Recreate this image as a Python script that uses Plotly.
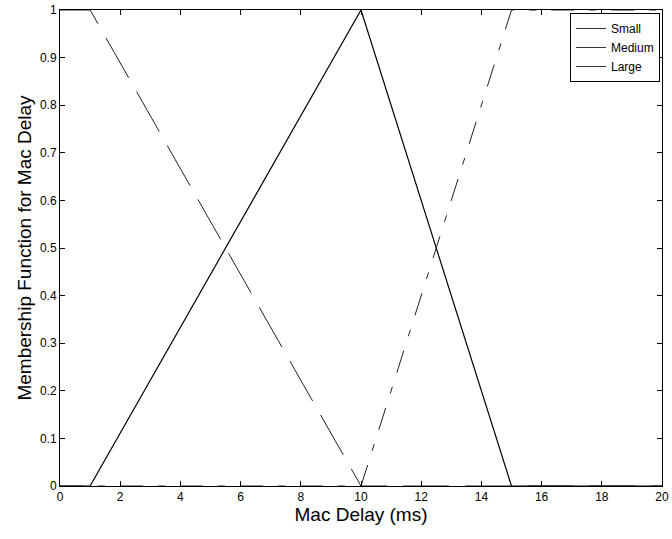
import plotly.graph_objects as go

small_x = [0, 1, 10, 20]
small_y = [1, 1, 0, 0]
medium_x = [0, 1, 10, 15, 20]
medium_y = [0, 0, 1, 0, 0]
large_x = [0, 10, 15, 20]
large_y = [0, 0, 1, 1]
series_names = ["Small", "Medium", "Large"]

x_ticks = list(range(0, 21, 2))
y_ticks = [round(i * 0.1, 1) for i in range(11)]
y_tick_text = ["0", "0.1", "0.2", "0.3", "0.4", "0.5", "0.6", "0.7", "0.8", "0.9", "1"]

FONT = "Liberation Sans, Arial"

fig = go.Figure()
fig.add_trace(go.Scatter(x=small_x, y=small_y, mode="lines", name=series_names[0],
                         showlegend=False,
                         line=dict(color="#222", width=1, dash="46px,16px")))
fig.add_trace(go.Scatter(x=medium_x, y=medium_y, mode="lines", name=series_names[1],
                         showlegend=False,
                         line=dict(color="black", width=1.2)))
fig.add_trace(go.Scatter(x=large_x, y=large_y, mode="lines", name=series_names[2],
                         showlegend=False,
                         line=dict(color="#222", width=1, dash="23px,15px,7px,15px")))
# legend entries (solid samples, as in the reference)
for nm in series_names:
    fig.add_trace(go.Scatter(x=[None], y=[None], mode="lines", name=nm,
                             line=dict(color="#333", width=1)))

axis_common = dict(showgrid=False, zeroline=False, showline=True, linecolor="black",
                   linewidth=1, mirror="ticks", ticks="inside", ticklen=5,
                   tickcolor="black", automargin=False,
                   tickfont=dict(size=12, color="black", family=FONT))
fig.update_xaxes(range=[0, 20], tickvals=x_ticks, **axis_common,
                 title=dict(text="Mac Delay (ms)", font=dict(size=19, color="black", family=FONT),
                            standoff=2))
fig.update_yaxes(range=[0, 1], tickvals=y_ticks, ticktext=y_tick_text, **axis_common,
                 title=dict(text="Membership Function for Mac Delay",
                            font=dict(size=19, color="black", family=FONT),
                            standoff=3))

fig.update_layout(
    width=672, height=539,
    margin=dict(l=60, r=10, t=10, b=53),
    plot_bgcolor="white", paper_bgcolor="white",
    showlegend=True,
    legend=dict(x=0.9967, y=0.9937, xanchor="right", yanchor="top",
                bordercolor="black", borderwidth=1, bgcolor="white",
                font=dict(size=12, color="black", family=FONT),
                tracegroupgap=0, itemwidth=30),
)

# remove the default 8px page margin so the figure fills the window exactly
fig.write_html("out.html", config={"displayModeBar": False},
               post_script="document.body.style.margin='0';document.body.style.overflow='hidden';")
